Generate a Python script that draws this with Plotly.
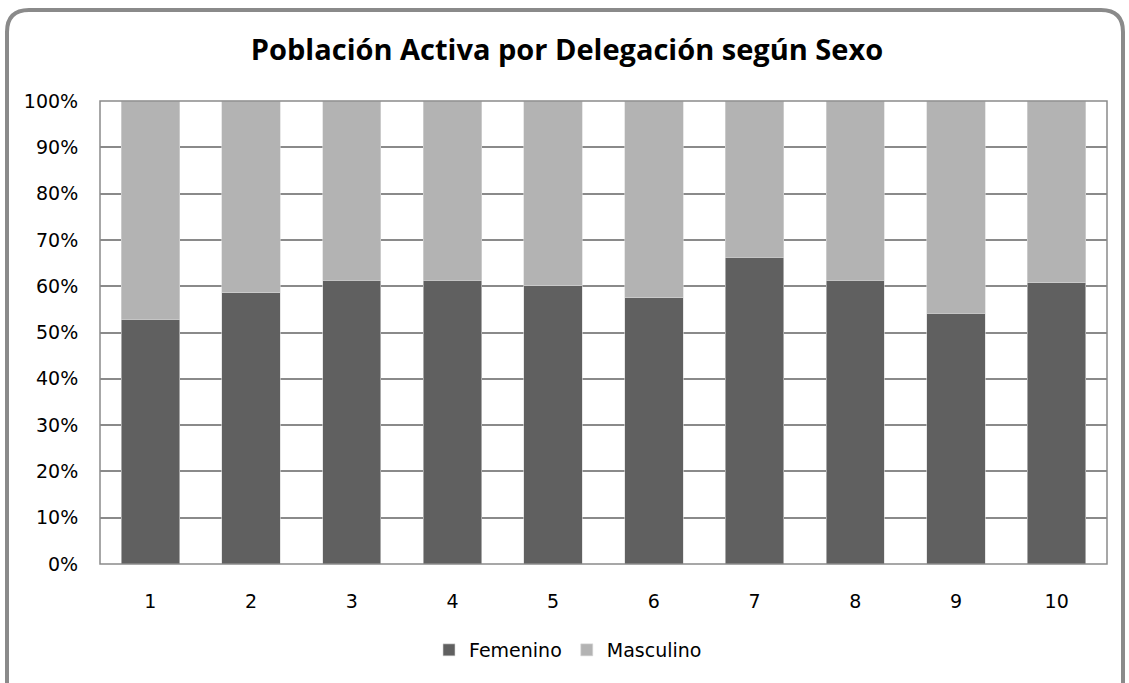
import plotly.graph_objects as go

delegaciones = ["1", "2", "3", "4", "5", "6", "7", "8", "9", "10"]
femenino = [52.9, 58.6, 61.3, 61.3, 60.1, 57.5, 66.3, 61.3, 54.2, 60.8]
masculino = [100 - v for v in femenino]
title_text = "Población Activa por Delegación según Sexo"

W, H = 1129, 683
L, R, T, B = 100, 1107, 101, 564

def px(x):
    return (x - L) / (R - L)

def py(y):
    return (B - y) / (B - T)

fig = go.Figure()
fig.add_trace(go.Bar(name="Femenino", x=delegaciones, y=femenino,
                     marker=dict(color="#606060", line=dict(color="#d9d9d9", width=0.6))))
fig.add_trace(go.Bar(name="Masculino", x=delegaciones, y=masculino,
                     marker=dict(color="#b3b3b3", line=dict(color="#d9d9d9", width=0.6))))

# outer rounded border
x0, x1, y0, y1, r = 7, 1123, 10, 705, 22
path = (f"M {px(x0+r)},{py(y0)} L {px(x1-r)},{py(y0)} Q {px(x1)},{py(y0)} {px(x1)},{py(y0+r)} "
        f"L {px(x1)},{py(y1-r)} Q {px(x1)},{py(y1)} {px(x1-r)},{py(y1)} "
        f"L {px(x0+r)},{py(y1)} Q {px(x0)},{py(y1)} {px(x0)},{py(y1-r)} "
        f"L {px(x0)},{py(y0+r)} Q {px(x0)},{py(y0)} {px(x0+r)},{py(y0)} Z")

fig.update_layout(
    width=W, height=H,
    margin=dict(l=L, r=W - R, t=T, b=H - B),
    paper_bgcolor="white", plot_bgcolor="white",
    barmode="stack", bargap=0.42,
    font=dict(family="DejaVu Sans, sans-serif", size=19, color="#000000"),
    title=dict(text="<b>" + title_text + "</b>", x=567 / W, xanchor="center",
               y=1 - 50 / H, yanchor="middle",
               font=dict(family="Open Sans, sans-serif", size=29, color="#000000")),
    legend=dict(orientation="h", x=px(568), xanchor="center", y=py(650), yanchor="middle",
                font=dict(size=19), itemwidth=30, traceorder="normal"),
    shapes=[dict(type="path", xref="paper", yref="paper", path=path,
                 line=dict(color="#8a8a8a", width=4), layer="below"),
            dict(type="rect", xref="paper", yref="paper", x0=0, x1=1, y0=0, y1=1,
                 line=dict(color="#8a8a8a", width=1.5), layer="above")],
    hovermode=False,
)
fig.update_yaxes(range=[0, 100], dtick=10, ticksuffix="%", showgrid=True,
                 gridcolor="#8a8a8a", gridwidth=1.5, zeroline=False,
                 ticks="outside", ticklen=17, tickcolor="rgba(0,0,0,0)", showline=False)
fig.update_xaxes(showgrid=False, ticks="outside", ticklen=20, tickcolor="rgba(0,0,0,0)",
                 showline=False)

fig.write_html("out.html", config={"displayModeBar": False},
               post_script="document.body.style.margin='0';document.body.style.padding='0';")
